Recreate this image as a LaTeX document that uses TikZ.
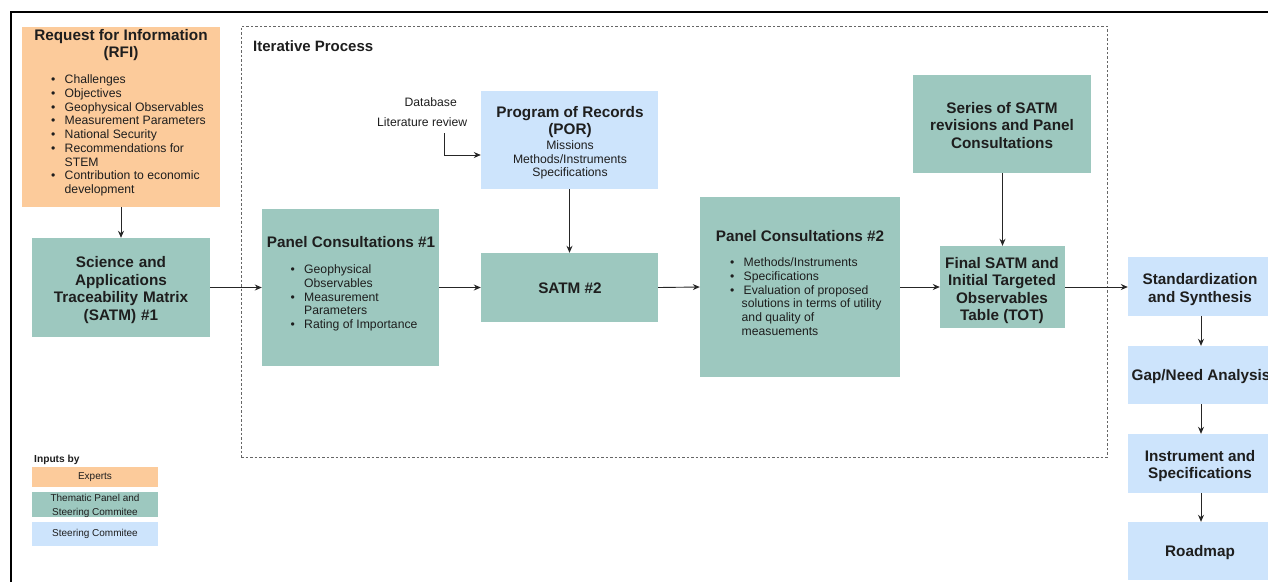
\documentclass[tikz,border=0pt]{standalone}
\usepackage{fontspec}
\setmainfont{Liberation Sans}
\usetikzlibrary{arrows.meta}
\definecolor{orangeC}{RGB}{252,203,155}
\definecolor{tealC}{RGB}{157,200,191}
\definecolor{blueC}{RGB}{205,228,252}
\definecolor{txt}{RGB}{30,30,30}
\newcommand{\bt}{\fontsize{15.3}{17.5}\selectfont\bfseries}
\newcommand{\st}{\fontsize{12.2}{13.75}\selectfont}
\newcommand{\lt}{\fontsize{10}{14}\selectfont}
\newcommand{\bl}{\makebox[13.5pt][l]{\textbullet}}
\tikzset{
  x=1pt,y=-1pt,
  boxO/.style={fill=orangeC,draw=none,inner sep=0pt},
  boxT/.style={fill=tealC,draw=none,inner sep=0pt},
  boxB/.style={fill=blueC,draw=none,inner sep=0pt},
  ttl/.style={align=center,inner sep=0pt,text=txt,font=\bt},
  lst/.style={align=left,inner sep=0pt,text=txt,font=\st},
  arr/.style={draw=black!85,line width=0.9pt,-{Stealth[length=7pt,width=6pt]}},
}
\begin{document}
\begin{tikzpicture}
\useasboundingbox (0,0) rectangle (1268,582);
\clip (0,0) rectangle (1268,582);
% outer frame lines
\draw[line width=2.5pt,black] (11,582) -- (11,12) -- (1270,12);
% iterative process frame
\node[draw=black!60,dash pattern=on 2.5pt off 2pt,line width=0.8pt,minimum width=866,minimum height=431,inner sep=0pt] (iter) at (674,241.5) {};
\node[anchor=west,inner sep=0pt,text=txt,font=\fontsize{15}{17}\selectfont\bfseries] (itt) at (253,46.5) {Iterative Process};
% RFI
\node[boxO,minimum width=198,minimum height=180] (rfi) at (121,117) {};
\node[ttl,anchor=north] (rfit) at (121,29) {Request for Information\\(RFI)};
\node[lst,anchor=north west] (rfil) at (51,74.5) {\bl Challenges\\\bl Objectives\\\bl Geophysical Observables\\\bl Measurement Parameters\\\bl National Security\\\bl Recommendations for\\\hspace*{13.5pt}STEM\\\bl Contribution to economic\\\hspace*{13.5pt}development};
% SATM1
\node[boxT,minimum width=178,minimum height=99] (s1) at (121,287.5) {};
\node[ttl,text width=178] (s1t) at (121,290) {Science and\\Applications\\Traceability Matrix\\(SATM) \#1};
% PC1
\node[boxT,minimum width=177,minimum height=157] (pc1) at (350.5,287.5) {};
\node[ttl] (pc1t) at (351,242.5) {Panel Consultations \#1};
\node[lst,anchor=north west] (pc1l) at (290.5,264.5) {\bl Geophysical\\\hspace*{13.5pt}Observables\\\bl Measurement\\\hspace*{13.5pt}Parameters\\\bl Rating of Importance};
% POR
\node[boxB,minimum width=177,minimum height=98] (por) at (569.5,140) {};
\node[ttl] (port) at (570,122) {Program of Records\\(POR)};
\node[lst,align=center] (porl) at (570,160) {Missions\\Methods/Instruments\\Specifications};
\node[lst,anchor=east] (db) at (457,102.5) {Database};
\node[lst,anchor=east] (lr) at (467.5,122.5) {Literature review};
\coordinate (lrs) at (444,133);
% SATM2
\node[boxT,minimum width=177,minimum height=69] (s2) at (569.5,287.5) {};
\node[ttl] (s2t) at (570,288.5) {SATM \#2};
% PC2
\node[boxT,minimum width=200,minimum height=180] (pc2) at (800,287) {};
\node[ttl] (pc2t) at (800,236.5) {Panel Consultations \#2};
\node[lst,anchor=north west] (pc2l) at (730,257.5) {\bl Methods/Instruments\\\bl Specifications\\\bl Evaluation of proposed\\\hspace*{11.5pt}solutions in terms of utility\\\hspace*{11.5pt}and quality of\\\hspace*{11.5pt}measuements};
% Series
\node[boxT,minimum width=178,minimum height=98] (ser) at (1002,124) {};
\node[ttl] (sert) at (1002,125.5) {Series of SATM\\revisions and Panel\\Consultations};
% Final
\node[boxT,minimum width=125,minimum height=82] (fin) at (1002.5,287) {};
\node[ttl] (fint) at (1002,290.5) {Final SATM and\\Initial Targeted\\Observables\\Table (TOT)};
% right column
\node[boxB,minimum width=146,minimum height=59] (std) at (1201,286.5) {};
\node[ttl] (stdt) at (1200,289.5) {Standardization\\and Synthesis};
\node[boxB,minimum width=146,minimum height=58] (gap) at (1201,375) {};
\node[ttl] (gapt) at (1201,377) {Gap/Need Analysis};
\node[boxB,minimum width=146,minimum height=59] (ins) at (1201,463.5) {};
\node[ttl] (inst) at (1200,466) {Instrument and\\Specifications};
\node[boxB,minimum width=146,minimum height=58] (road) at (1201,551) {};
\node[ttl] (roadt) at (1200,553) {Roadmap};
% legend
\node[anchor=west,inner sep=0pt,text=txt,font=\fontsize{10.2}{12}\selectfont\bfseries] (inp) at (34,459.5) {Inputs by};
\node[boxO,minimum width=126,minimum height=20,font=\lt,text=txt] (le) at (95,477) {Experts};
\node[boxT,minimum width=126,minimum height=25,font=\lt,text=txt,align=center] (lt) at (95,504.5) {};
\node[inner sep=0pt,font=\lt,text=txt,align=center] (ltt) at (95,505.5) {Thematic Panel and\\Steering Commitee};
\node[boxB,minimum width=126,minimum height=24,font=\lt,text=txt] (lb) at (95,534) {Steering Commitee};
% arrows
\draw[arr] (rfi.south) -- (s1.north);
\draw[arr] (s1.east) -- (pc1.west);
\draw[arr] (pc1.east) -- (s2.west);
\draw[arr] (por.south) -- (s2.north);
\draw[arr] (lrs) |- (por.west |- 0,155);
\draw[arr] (s2.east) -- (pc2.west);
\draw[arr] (pc2.east |- fin.west) -- (fin.west);
\draw[arr] (ser.south -| fin.north) -- (fin.north);
\draw[arr] (fin.east) -- (std.west |- fin.east);
\draw[arr] (std.south) -- (gap.north);
\draw[arr] (gap.south) -- (ins.north);
\draw[arr] (ins.south) -- (road.north);
\end{tikzpicture}
\end{document}
